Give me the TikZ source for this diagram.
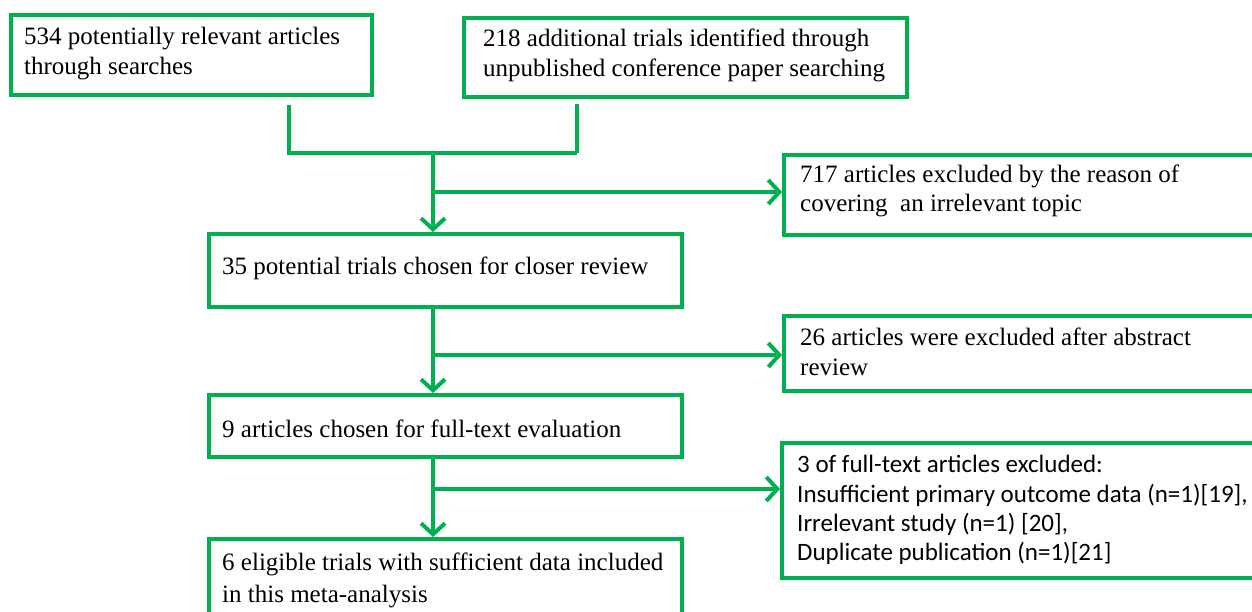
\documentclass[tikz,border=0pt]{standalone}
\usepackage{fontspec}
\setmainfont{Liberation Serif}
\newfontfamily\calfont{Carlito}
\usetikzlibrary{arrows.meta}
\definecolor{pgreen}{HTML}{00B050}
\begin{document}
\begin{tikzpicture}[x=1pt,y=-1pt,
  box/.style={draw=pgreen,line width=4pt,line join=miter,inner sep=0pt,anchor=north west,rectangle},
  txt/.style={anchor=base west,inner sep=0pt,font=\fontsize{25}{30}\selectfont},
  ctxt/.style={anchor=base west,inner sep=0pt,font=\calfont\fontsize{25}{30}\selectfont},
  conn/.style={draw=pgreen,line width=4pt},
  arr/.style={conn,-{Straight Barb[length=11pt,width=24pt,line width=4pt]}}]
\useasboundingbox (0,0) rectangle (1252,612);
\clip (0,0) rectangle (1252,612);
% boxes
\node[box,minimum width=361pt,minimum height=80pt] (b1) at (9,13) {};
\node[box,minimum width=443pt,minimum height=79pt] (b2) at (462,16) {};
\node[box,minimum width=500pt,minimum height=80pt] (b717) at (782,153) {};
\node[box,minimum width=473pt,minimum height=73pt] (b3) at (207,232) {};
\node[box,minimum width=500pt,minimum height=75pt] (b26) at (782,314) {};
\node[box,minimum width=473pt,minimum height=62pt] (b4) at (207,393) {};
\node[box,minimum width=500pt,minimum height=135pt] (b3of) at (780,441) {};
\node[box,minimum width=473pt,minimum height=100pt] (b5) at (207,537) {};
% texts
\node[txt] (t1a) at (24,45) {534 potentially relevant articles};
\node[txt] (t1b) at (24,75) {through searches};
\node[txt] (t2a) at (483,47) {218 additional trials identified through};
\node[txt] (t2b) at (483,77) {unpublished conference paper searching};
\node[txt] (t7a) at (800,183) {717 articles excluded by the reason of};
\node[txt] (t7b) at (800,212) {covering\ \ an irrelevant topic};
\node[txt] (t3a) at (222,275) {35 potential trials chosen for closer review};
\node[txt] (t6a) at (800,345) {26 articles were excluded after abstract};
\node[txt] (t6b) at (800,375) {review};
\node[txt] (t4a) at (222,437) {9 articles chosen for full-text evaluation};
\node[ctxt] (t8a) at (797,472) {3 of full-text articles excluded:};
\node[ctxt] (t8b) at (797,502) {Insufficient primary outcome data (n=1)[19],};
\node[ctxt] (t8c) at (797,531) {Irrelevant study (n=1) [20],};
\node[ctxt] (t8d) at (797,560) {Duplicate publication (n=1)[21]};
\node[txt] (t5a) at (222,570) {6 eligible trials with sufficient data included};
\node[txt] (t5b) at (222,602) {in this meta-analysis};
% junction coordinates
\coordinate (j1) at (289,153);
\coordinate (j2) at (577,153);
\coordinate (j3) at (433,153);
\coordinate (k1) at (433,192);
\coordinate (k2) at (433,355);
\coordinate (k3) at (433,489);
% connectors
\draw[conn] ([yshift=-8pt]b1.south -| j1) -- (j1) -- (j2);
\draw[conn] ([yshift=-5pt]b2.south -| j2) -- (j2);
\draw[arr] (j3) -- (b3.north -| j3);
\draw[arr] (k1) -- (k1 -| b717.west);
\draw[arr] (b3.south -| k2) -- (b4.north -| k2);
\draw[arr] (k2) -- (k2 -| b26.west);
\draw[arr] (b4.south -| k3) -- (b5.north -| k3);
\draw[arr] (k3) -- (k3 -| b3of.west);
\end{tikzpicture}
\end{document}
